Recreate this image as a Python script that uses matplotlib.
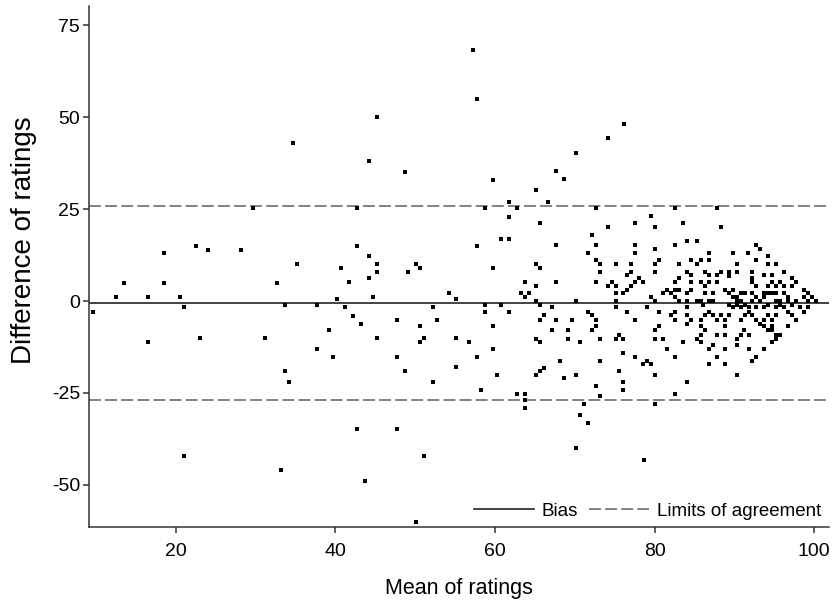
import matplotlib
matplotlib.use("Agg")
import matplotlib.pyplot as plt

# mean of the two ratings (x) and their difference (y)
mean_ratings = [
    9.6, 12.5, 13.5, 16.6, 16.6, 18.6, 18.6, 20.6, 21.1, 21.1, 22.6, 23.0, 24.1, 28.2, 29.7, 31.2,
    32.7, 33.2, 33.7, 33.7, 34.2, 34.7, 35.2,
    37.7, 37.7, 39.2, 39.7, 40.2, 40.7, 41.2, 41.7, 42.2, 42.7, 42.7, 42.7, 43.2, 43.7, 44.2, 44.2,
    44.2, 44.7, 45.2, 45.2, 45.2, 45.2, 47.7, 47.7, 47.7, 48.7, 48.7, 49.1, 50.1, 50.1, 50.6, 50.6,
    50.6, 51.1, 51.1, 52.2, 52.2, 52.7, 54.2, 55.1, 55.1, 55.1, 56.8, 57.3, 57.8, 57.8, 57.8, 58.3,
    58.8, 58.8, 58.8, 59.8, 59.8, 59.8, 59.8, 60.3, 60.8, 60.8, 61.8, 61.8, 61.8, 61.8, 62.8, 62.8,
    63.3, 63.8, 63.8, 63.8, 63.8, 63.8, 64.3,
    65.2, 66.7, 67.7, 68.7, 70.2, 74.2, 76.2, 72.7, 82.6, 87.8,
    65.7, 79.6, 77.6, 74.1, 80.1, 72.2, 67.7, 72.7, 77.6, 82.6, 80.1, 77.6, 71.7, 72.7, 73.2, 65.2,
    65.7, 75.2, 77.1, 80.6, 80.1, 80.1, 73.2, 77.1, 76.6, 78.1, 77.6, 78.6, 77.1, 76.6, 76.1, 67.7,
    72.7, 74.6, 74.1, 75.2, 75.2, 65.2, 82.6, 81.1, 81.6, 82.1, 82.6, 82.6, 79.6, 80.1, 75.2, 70.2,
    65.2,
    65.7, 67.1, 75.2, 79.1, 76.6, 80.6, 82.1, 82.6, 82.6, 71.7, 72.2, 72.7, 66.2, 65.7, 67.7, 69.6,
    77.6, 72.7, 72.2, 67.1, 69.1, 69.1, 65.2, 65.7, 70.7, 73.2, 75.2, 75.6, 76.1, 80.1, 81.1, 80.1,
    80.6, 81.6, 82.6, 76.1, 77.6, 78.6, 79.1, 79.6, 68.2, 73.2, 66.2, 65.7, 65.2, 68.6, 70.2, 75.6,
    76.1, 76.1, 72.7, 73.2, 80.1, 82.6, 71.2, 80.1,
    70.7, 71.7, 70.2, 78.7,
    83.6, 88.3, 84.1, 85.3, 86.8, 86.8, 84.6, 85.8, 85.3, 83.1, 89.8, 91.7, 92.7, 93.2, 94.2, 92.7,
    90.3, 94.2, 95.2, 84.1, 84.6, 86.3, 86.8, 87.8, 88.3, 89.3, 89.3, 90.3, 92.2, 92.2, 93.7, 94.7,
    96.2, 83.1, 84.6, 85.8, 86.3, 86.8, 87.8, 88.8, 89.3, 89.8, 92.2, 92.7, 94.2, 94.7, 95.2, 95.7,
    96.2, 97.2, 97.7, 97.2, 98.7, 99.2, 99.7, 98.7, 99.2, 100.2, 83.1, 84.1, 84.6, 86.3, 87.3, 85.8,
    85.3, 86.8, 87.3, 90.3, 89.8, 90.8, 91.3, 90.8, 90.3, 93.2, 93.7, 94.2, 93.7, 94.7, 95.2, 96.2,
    96.7, 95.7, 96.7, 95.2, 97.7, 92.2, 92.7, 92.2, 83.1, 84.1,
    84.1, 86.1, 89.3, 89.8, 90.3, 90.8, 91.3, 91.8, 92.7, 93.7, 94.2, 95.2, 95.7, 96.2, 97.2, 98.2,
    99.2, 84.1, 84.1, 84.6, 85.8, 86.3, 86.8, 87.3, 87.8, 88.3, 88.8, 89.3, 90.8, 91.3, 91.8, 92.2,
    92.7, 93.2, 93.7, 94.2, 94.7, 95.2, 96.7, 97.2, 97.7, 98.7, 96.7, 94.7, 94.7, 95.2, 95.7, 94.7,
    95.2, 93.7, 94.2, 91.2, 90.8, 91.8, 90.3, 90.3, 88.8, 88.8, 87.8, 85.8, 86.3, 85.8, 85.3, 85.8,
    83.6, 87.3, 86.8, 88.8, 91.8, 93.7, 87.8, 86.8, 88.8, 92.7, 92.2, 90.3, 84.1,
]
diff_ratings = [
    -2.9, 1.2, 5.0, 1.2, -11.2, 13.0, 5.0, 1.2, -1.7, -42.1, 15.1, -10.1, 14.0, 14.0, 25.3, -10.1,
    5.0, -46.0, -1.1, -19.1, -22.0, 43.0, 10.0,
    -1.1, -13.0, -8.0, -15.1, 0.5, 9.1, -1.7, 5.1, -4.0, 25.2, 15.1, -34.9, -6.2, -48.9, 38.1, 12.2,
    6.2, 1.2, 50.0, 10.0, 8.0, -10.1, -5.1, -15.1, -34.9, 35.2, -19.1, 8.0, 10.0, -60.0, 9.1, -6.9,
    -11.2, -10.1, -42.1, -1.7, -22.0, -5.1, 2.2, 0.5, -10.1, -18.0, -11.2, 68.3, 55.0, 15.1, -15.1, -24.1,
    25.2, -1.1, -2.9, 33.0, 9.1, -6.9, -13.0, -20.2, 16.9, -1.1, 27.0, 23.0, 16.9, -2.9, 25.2, -25.2,
    2.2, 5.1, 1.2, -25.2, -27.0, -29.2, 2.2,
    30.2, 27.0, 35.3, 33.1, 40.4, 44.3, 48.3, 25.2, 25.2, 25.2,
    21.3, 23.1, 21.3, 20.1, 20.1, 18.0, 15.2, 15.2, 15.2, 15.2, 14.2, 13.0, 13.0, 11.3, 10.1, 10.1,
    9.1, 10.1, 10.1, 11.3, 10.1, 8.0, 8.0, 8.0, 7.2, 6.2, 5.1, 5.1, 4.0, 2.9, 2.2, 5.1,
    5.1, 5.1, 4.0, 4.0, 2.2, 4.0, 5.1, 2.2, 2.9, 2.2, 2.9, 1.1, 1.1, 0.0, 0.0, 0.0,
    0.0,
    -1.1, -1.7, -1.7, -1.7, -2.9, -2.9, -3.9, -2.9, -5.1, -2.9, -3.9, -5.1, -3.9, -5.1, -5.1, -5.1,
    -5.1, -6.9, -8.0, -8.0, -8.0, -10.2, -10.2, -11.2, -11.2, -10.2, -10.2, -9.1, -10.2, -10.2, -10.2, -8.0,
    -6.9, -13.1, -15.2, -14.1, -15.2, -17.0, -16.2, -17.0, -16.2, -16.2, -18.1, -19.1, -20.2, -21.0, -20.2, -19.1,
    -22.0, -24.1, -23.0, -25.9, -20.2, -25.2, -28.1, -28.1,
    -31.0, -33.2, -40.0, -43.3,
    21.3, 20.1, 16.3, 16.3, 13.0, 11.3, 11.3, 11.3, 10.2, 10.2, 13.0, 13.0, 15.2, 14.2, 12.3, 11.3,
    10.2, 10.2, 10.2, 8.0, 7.2, 8.0, 7.2, 7.2, 8.0, 8.0, 6.8, 8.0, 8.0, 6.2, 7.2, 7.2,
    8.0, 6.2, 5.1, 5.1, 4.0, 5.1, 5.1, 2.9, 2.2, 2.9, 5.1, 4.0, 4.0, 5.1, 4.0, 5.1,
    4.0, 6.2, 5.1, 4.0, 2.9, 2.2, 1.1, 1.1, 0.0, 0.0, 3.1, 2.2, 2.9, 2.2, 2.2, 0.0,
    0.0, 0.0, 0.0, 1.1, 1.1, 2.2, 2.2, 0.0, 0.0, 0.0, 2.2, 2.2, 1.1, 2.2, 2.2, 2.2,
    1.1, 0.0, 0.0, 0.0, 0.0, 2.2, 1.1, 0.0, 0.0, 0.0,
    -1.7, -1.1, -1.1, -1.7, -1.1, -1.7, -1.1, -1.7, -1.7, -1.7, -1.1, -1.7, -1.1, -1.7, -1.1, -1.7,
    -1.7, -3.9, -6.2, -5.1, -5.1, -3.9, -2.9, -3.9, -5.1, -3.9, -5.1, -3.9, -5.1, -3.9, -2.9, -3.9,
    -5.1, -6.2, -5.1, -3.9, -5.1, -3.9, -2.9, -3.9, -5.1, -2.9, -6.8, -6.8, -8.0, -9.1, -9.1, -11.2,
    -10.2, -6.8, -8.0, -7.9, -9.1, -9.1, -10.2, -11.9, -6.8, -9.1, -9.1, -6.8, -7.9, -9.1, -10.2, -11.2,
    -11.2, -11.9, -13.1, -13.1, -13.1, -13.1, -15.2, -17.0, -17.0, -15.2, -16.2, -20.2, -22.0,
]

bias = -0.6
upper_limit = 25.8
lower_limit = -26.9

plt.rcParams['font.family'] = ['Liberation Sans', 'DejaVu Sans']
plt.rcParams['lines.scale_dashes'] = False
plt.rcParams['axes.unicode_minus'] = False

fig = plt.figure(figsize=(8.32, 6.01), dpi=100)
ax = fig.add_axes([0.107, 0.123, 0.889, 0.867])

ax.scatter(mean_ratings, diff_ratings, marker='s', s=8, color='black', linewidths=0, zorder=3)
ax.axhline(bias, color='#222222', linewidth=1.2, label='Bias', zorder=2)
ax.axhline(upper_limit, color='#777777', linewidth=1.3, dashes=(8.6, 3.0), label='Limits of agreement', zorder=2)
ax.axhline(lower_limit, color='#777777', linewidth=1.3, dashes=(8.6, 3.0), zorder=2)

ax.set_xlim(9.16, 101.8)
ax.set_ylim(-61.5, 80.3)
ax.set_xticks([20, 40, 60, 80, 100])
ax.set_yticks([-50, -25, 0, 25, 50, 75])
ax.set_xlabel('Mean of ratings', fontsize=15.5, labelpad=13)
ax.set_ylabel('Difference of ratings', fontsize=20)
ax.yaxis.set_label_coords(-0.07, 0.55)

for s in ['top', 'right']:
    ax.spines[s].set_visible(False)
for s in ['left', 'bottom']:
    ax.spines[s].set_linewidth(1.1)
    ax.spines[s].set_color('#333333')
ax.tick_params(direction='out', length=4.5, width=1.1, color='#333333', labelsize=14)
ax.tick_params(axis='x', pad=7)
ax.tick_params(axis='y', pad=2)

ax.legend(loc='lower right', ncol=2, frameon=False, fontsize=13.5, handlelength=3.2,
          handletextpad=0.4, columnspacing=0.6, borderaxespad=0.1, borderpad=0.3)

fig.savefig('out.png', dpi=100)
